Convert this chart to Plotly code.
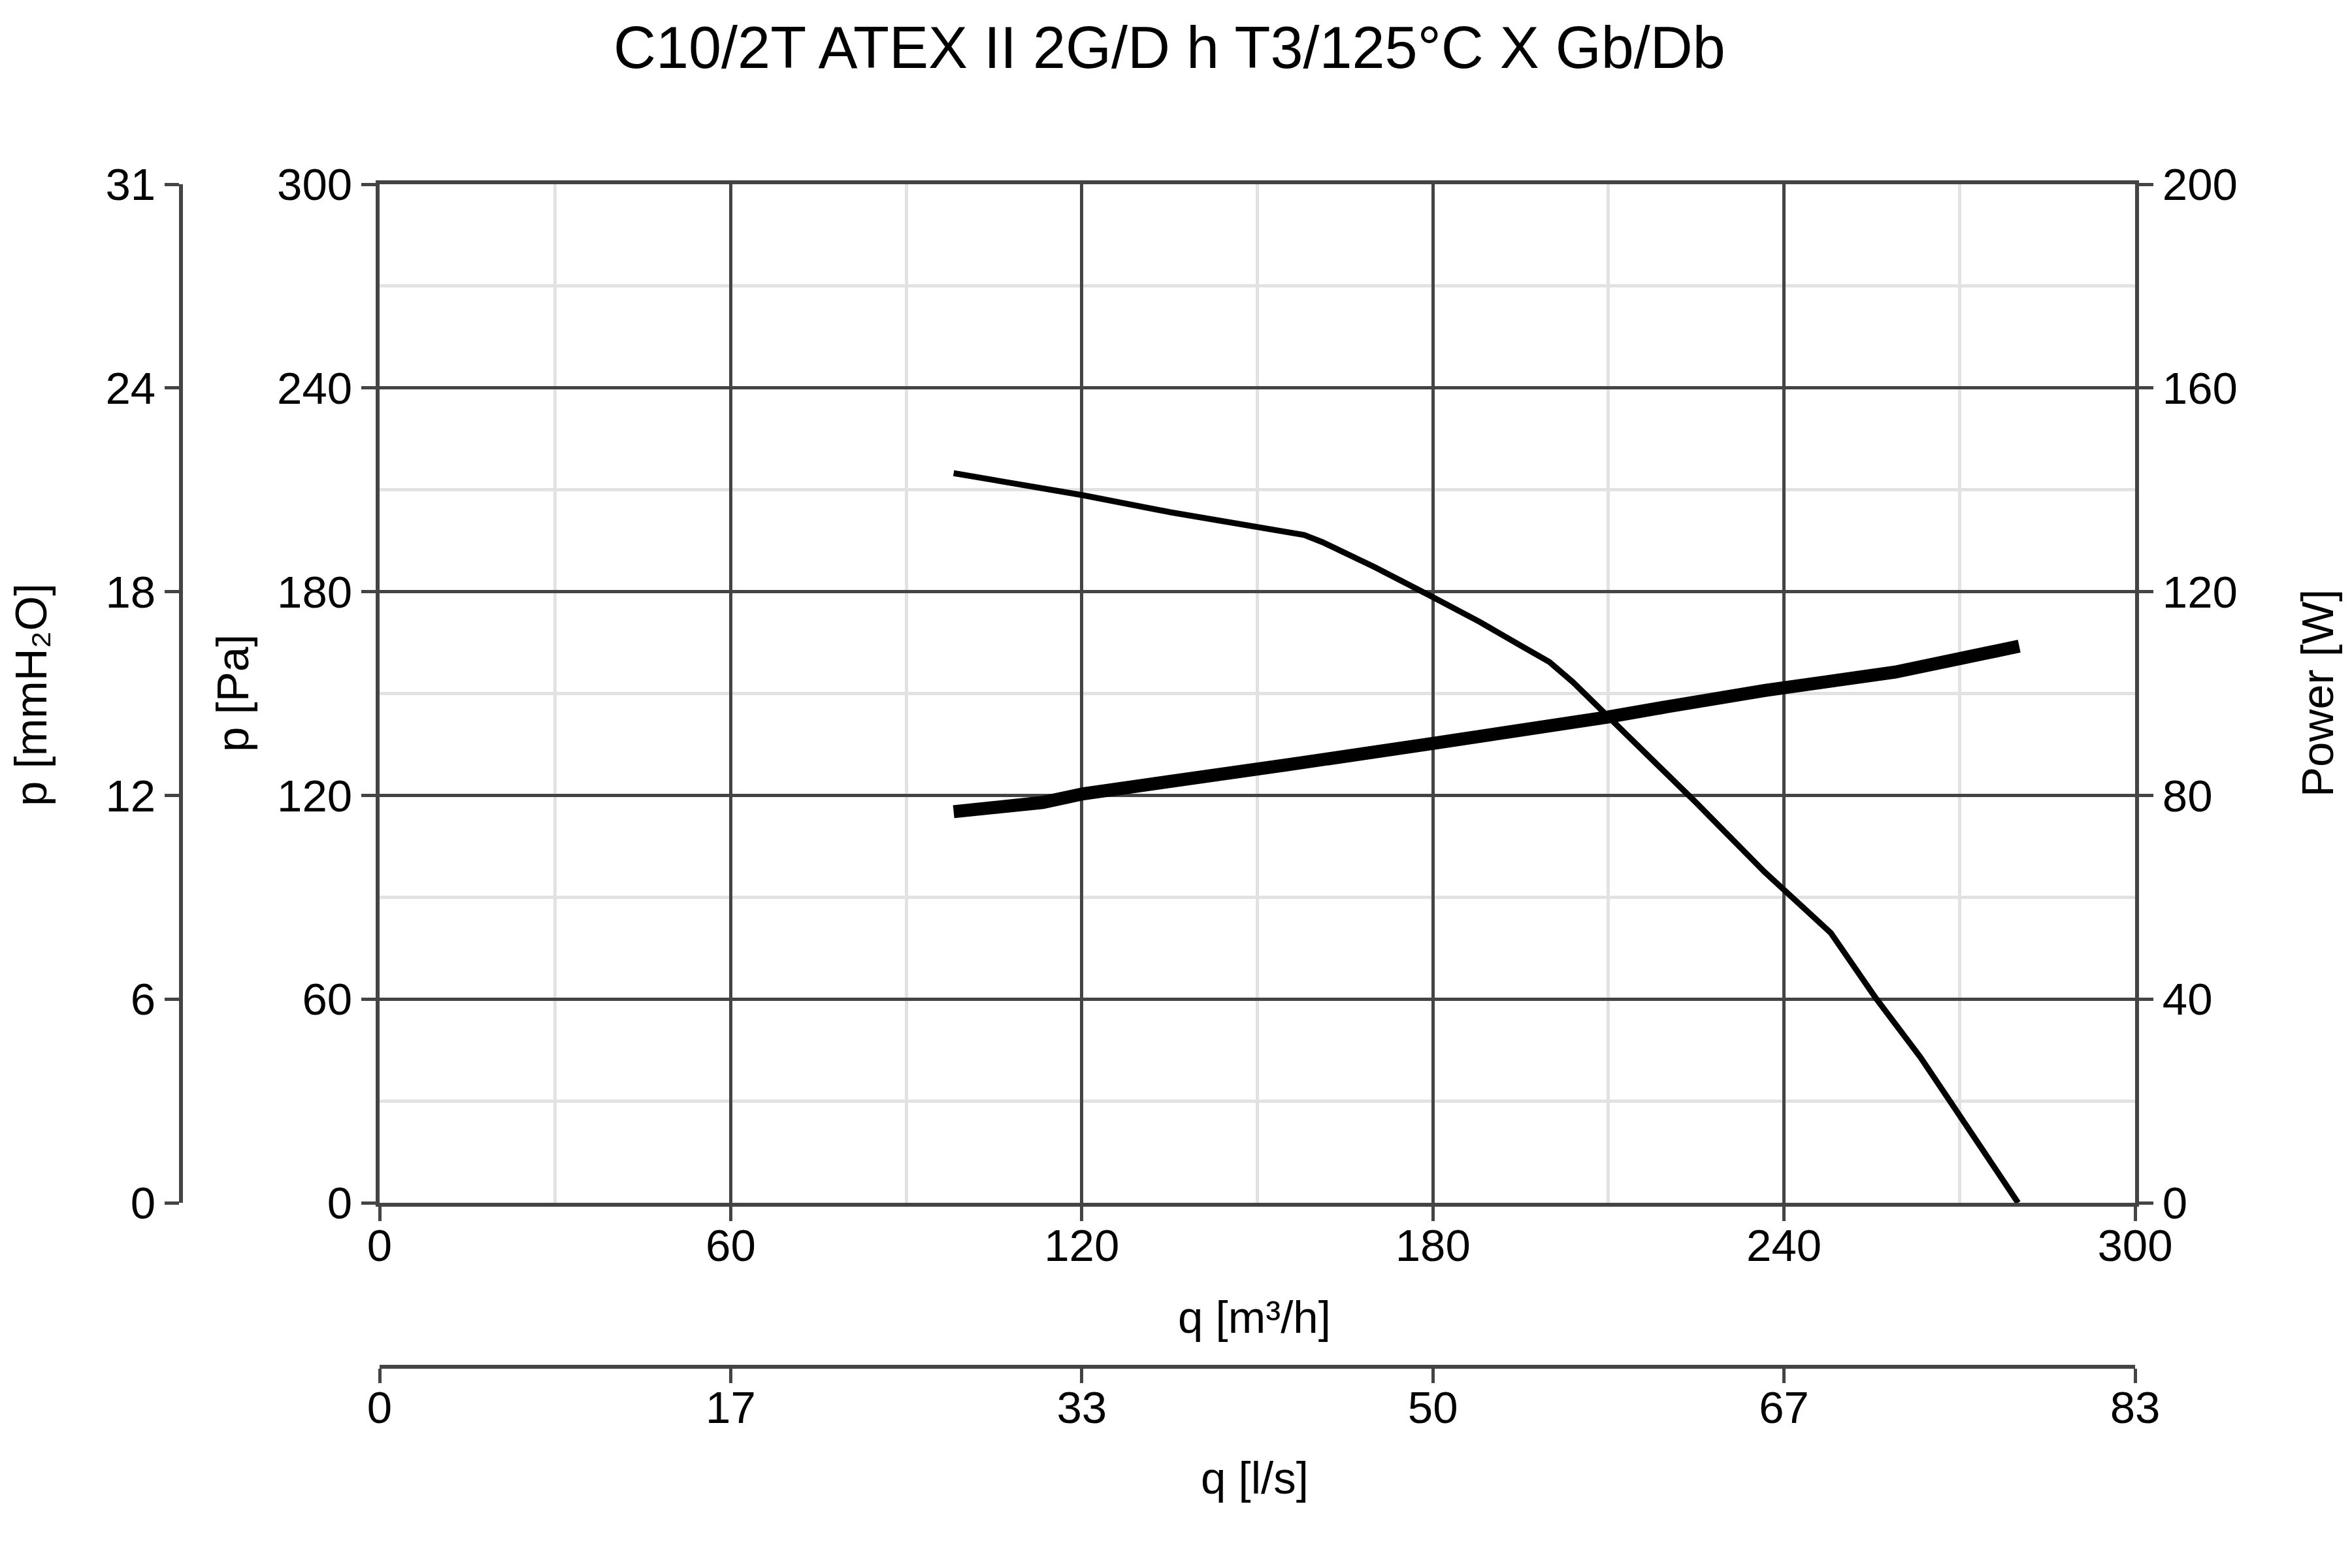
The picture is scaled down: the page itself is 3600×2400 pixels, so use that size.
import plotly.graph_objects as go

# ---- data ----
q_pressure = [98.1, 120.2, 135.1, 150.1, 158.0, 161.1, 170.1, 180.0, 188.0, 195.0, 199.9, 203.9,
              210.0, 224.9, 236.7, 248.0, 255.6, 263.3, 268.5, 280.0]
p_pressure = [214.9, 208.4, 203.4, 199.0, 196.7, 194.6, 187.2, 178.4, 171.1, 164.1, 159.3, 153.4,
              143.2, 118.0, 97.4, 79.5, 60.5, 42.9, 29.6, 0.0]

q_power = [98.1, 113.3, 120.2, 135.1, 155.1, 180.0, 199.9, 210.0, 220.0, 236.7, 259.0, 266.5, 271.5, 280.2]
w_power = [76.8, 78.6, 80.3, 82.6, 86.0, 90.2, 93.4, 95.4, 97.4, 100.6, 104.2, 106.0, 107.0, 109.3]

x_tickvals = [0, 60, 120, 180, 240, 300]
x_ticktext_m3h = ["0", "60", "120", "180", "240", "300"]
x_ticktext_ls = ["0", "17", "33", "50", "67", "83"]
y_tickvals = [0, 60, 120, 180, 240, 300]
y_ticktext_pa = ["0", "60", "120", "180", "240", "300"]
y_ticktext_mmh2o = ["0", "6", "12", "18", "24", "31"]
power_tickvals = [0, 40, 80, 120, 160, 200]

title_text = "C10/2T ATEX II 2G/D h T3/125°C X Gb/Db"

FONT = "Liberation Sans, Arial, sans-serif"
AX = "#444444"
GRID_MINOR = "#e2e2e2"
TICKFONT = dict(family=FONT, size=69, color="black")
TITLEFONT = dict(family=FONT, size=69, color="black")

W, H = 3600, 2400
OFF = 8  # page body margin offset


def px(x):
    return (x - OFF) / W


def py(y):
    return 1 - (y - OFF) / H


x_dom = [px(581), px(3268)]
y_dom = [py(1841), py(282)]

fig = go.Figure()

fig.add_trace(go.Scatter(x=q_pressure, y=p_pressure, mode="lines",
                         line=dict(color="black", width=9), xaxis="x", yaxis="y",
                         showlegend=False, hoverinfo="x+y"))
fig.add_trace(go.Scatter(x=q_power, y=w_power, mode="lines",
                         line=dict(color="black", width=20), xaxis="x", yaxis="y2",
                         showlegend=False, hoverinfo="x+y"))
# invisible companion trace so the extra unit axes get drawn
fig.add_trace(go.Scatter(x=q_pressure, y=p_pressure, mode="lines", opacity=0,
                         line=dict(width=0), xaxis="x2", yaxis="y3",
                         showlegend=False, hoverinfo="skip"))

common_axis = dict(ticks="outside", ticklen=22, tickwidth=5, tickcolor=AX,
                   showline=True, linecolor=AX, linewidth=6, zeroline=False,
                   tickfont=TICKFONT, automargin=False)

fig.update_layout(
    template="none",
    width=W, height=H,
    margin=dict(l=0, r=0, t=0, b=0, pad=0),
    paper_bgcolor="white", plot_bgcolor="white",
    font=dict(family=FONT, color="black"),
    xaxis=dict(domain=x_dom, range=[0, 300], anchor="y", mirror=True,
               tickvals=x_tickvals, ticktext=x_ticktext_m3h, ticklabelstandoff=-22,
               showgrid=True, gridcolor=AX, gridwidth=5,
               minor=dict(dtick=30, showgrid=True, gridcolor=GRID_MINOR, gridwidth=5, ticklen=0),
               **common_axis),
    xaxis2=dict(overlaying="x", anchor="free", position=py(2092), side="bottom",
                range=[0, 300], tickvals=x_tickvals, ticktext=x_ticktext_ls, ticklabelstandoff=-22,
                showgrid=False, **common_axis),
    yaxis=dict(domain=y_dom, range=[0, 300], anchor="x",
               tickvals=y_tickvals, ticktext=y_ticktext_pa,
               showgrid=True, gridcolor=AX, gridwidth=5,
               minor=dict(dtick=30, showgrid=True, gridcolor=GRID_MINOR, gridwidth=5, ticklen=0),
               **common_axis),
    yaxis2=dict(overlaying="y", side="right", anchor="x", range=[0, 200],
                tickvals=power_tickvals, showgrid=False, **common_axis),
    yaxis3=dict(overlaying="y", side="left", anchor="free", position=px(277),
                range=[0, 300], tickvals=y_tickvals, ticktext=y_ticktext_mmh2o,
                showgrid=False, **common_axis),
    showlegend=False,
)

annotations = [
    dict(text=title_text, x=px(1790), y=py(73), font=dict(family=FONT, size=90, color="black"), textangle=0),
    dict(text="p [mmH₂O]", x=px(48), y=py(1064), font=TITLEFONT, textangle=-90),
    dict(text="p [Pa]", x=px(356), y=py(1061), font=TITLEFONT, textangle=-90),
    dict(text="Power [W]", x=px(3547), y=py(1061), font=TITLEFONT, textangle=-90),
    dict(text="q [m³/h]", x=px(1920), y=py(2016), font=TITLEFONT, textangle=0),
    dict(text="q [l/s]", x=px(1920), y=py(2262), font=TITLEFONT, textangle=0),
]
for a in annotations:
    fig.add_annotation(xref="paper", yref="paper", xanchor="center", yanchor="middle",
                       showarrow=False, **a)

fig.write_html("out.html")
